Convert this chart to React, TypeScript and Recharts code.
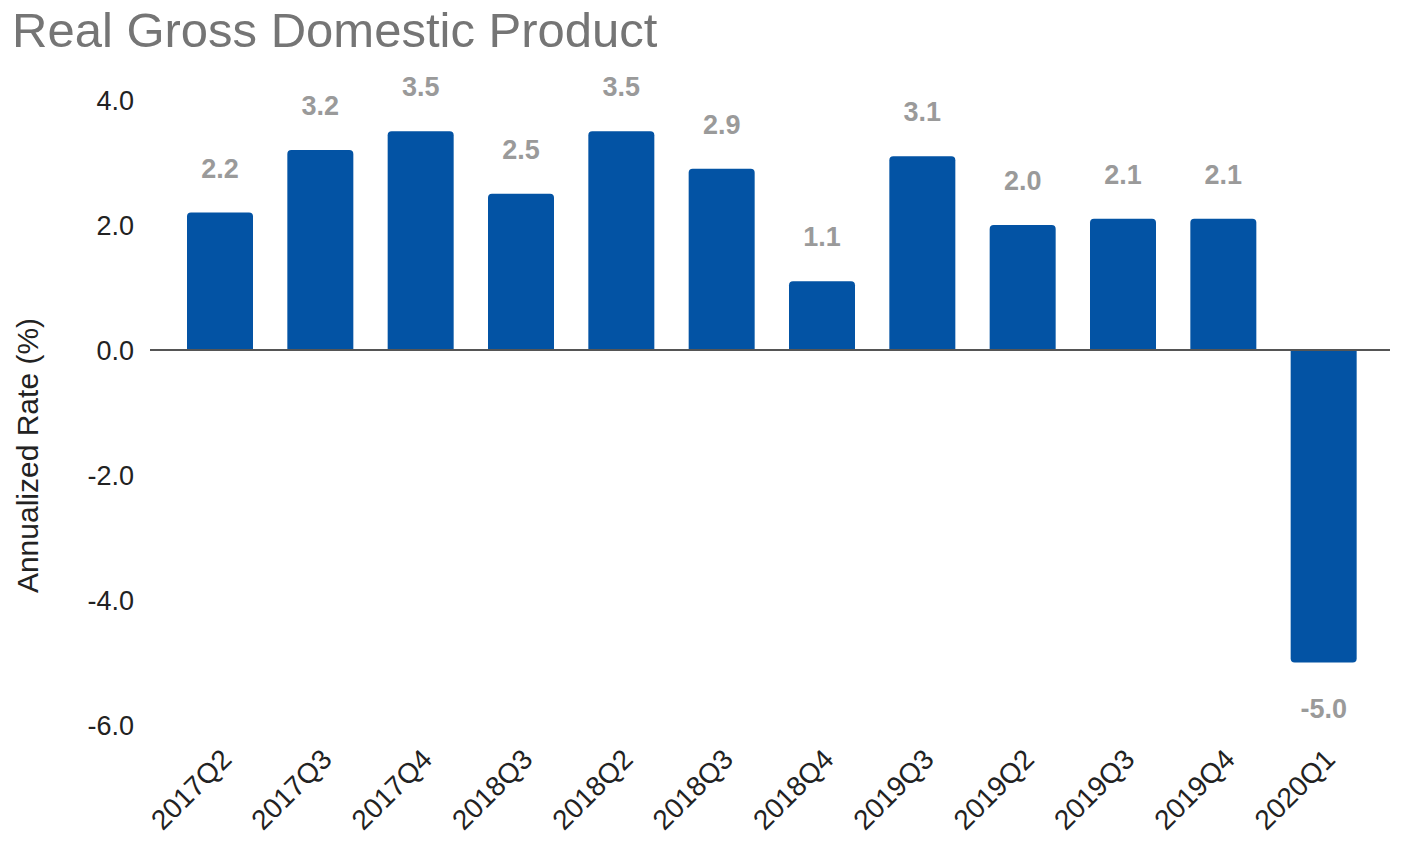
import { BarChart, Bar, XAxis, YAxis, ReferenceLine, LabelList, Label } from 'recharts'

const quarters = [
  '2017Q2',
  '2017Q3',
  '2017Q4',
  '2018Q3',
  '2018Q2',
  '2018Q3',
  '2018Q4',
  '2019Q3',
  '2019Q2',
  '2019Q3',
  '2019Q4',
  '2020Q1',
]
const gdpRates = [2.2, 3.2, 3.5, 2.5, 3.5, 2.9, 1.1, 3.1, 2.0, 2.1, 2.1, -5.0]
const yTicks = [-6, -4, -2, 0, 2, 4]

const data = quarters.map((q, i) => ({ quarter: q, rate: gdpRates[i] }))

const FONT = '"Liberation Sans", Arial, sans-serif'

function QuarterTick(props: any) {
  const { x, y, payload } = props
  const tx = x + 13
  const ty = y + 36
  return (
    <text
      x={tx}
      y={ty}
      transform={`rotate(-45, ${tx}, ${ty})`}
      textAnchor="end"
      fontSize={28}
      fontFamily={FONT}
      fill="#222"
    >
      {payload.value}
    </text>
  )
}

function ValueLabel(props: any) {
  const { x, y, width, height, value } = props
  const top = Math.min(y, y + height)
  const bottom = Math.max(y, y + height)
  const ty = value >= 0 ? top - 35 : bottom + 55
  return (
    <text
      x={x + width / 2}
      y={ty}
      textAnchor="middle"
      fontSize={27}
      fontWeight="bold"
      fontFamily={FONT}
      fill="#9a9a9a"
    >
      {Number(value).toFixed(1)}
    </text>
  )
}

export default function App() {
  return (
    <div style={{ position: 'absolute', left: 0, top: 0, width: 1404, height: 849, background: '#fff' }}>
      <div
        style={{
          position: 'absolute',
          left: 12,
          top: 6,
          fontFamily: FONT,
          fontSize: 49,
          lineHeight: '48px',
          color: '#757575',
          whiteSpace: 'nowrap',
        }}
      >
        Real Gross Domestic Product
      </div>
      <BarChart
        width={1404}
        height={849}
        data={data}
        margin={{ top: 100, right: 14, bottom: 0, left: 0 }}
      >
        <XAxis
          dataKey="quarter"
          height={124}
          axisLine={false}
          tickLine={false}
          tickSize={0}
          tickMargin={0}
          interval={0}
          padding={{ left: 20, right: 16 }}
          tick={<QuarterTick />}
        />
        <YAxis
          width={150}
          domain={[-6, 4]}
          ticks={yTicks}
          axisLine={false}
          tickLine={false}
          tickSize={6}
          tickMargin={10}
          tickFormatter={(v: number) => v.toFixed(1)}
          tick={{ fontSize: 27, fontFamily: FONT, fill: '#222' }}
        >
          <Label
            content={({ viewBox }: any) => {
              const lx = viewBox.x + 27
              const ly = viewBox.y + viewBox.height / 2 + 43
              return (
                <text
                  x={lx}
                  y={ly}
                  transform={`rotate(-90, ${lx}, ${ly})`}
                  textAnchor="middle"
                  dominantBaseline="central"
                  fontSize={30}
                  fontFamily={FONT}
                  fill="#222"
                >
                  Annualized Rate (%)
                </text>
              )
            }}
          />
        </YAxis>
        <Bar dataKey="rate" fill="#0353A4" barSize={66} radius={[4, 4, 0, 0]} isAnimationActive={false}>
          <LabelList dataKey="rate" content={<ValueLabel />} />
        </Bar>
        <ReferenceLine y={0} stroke="#555" strokeWidth={2} />
      </BarChart>
    </div>
  )
}
